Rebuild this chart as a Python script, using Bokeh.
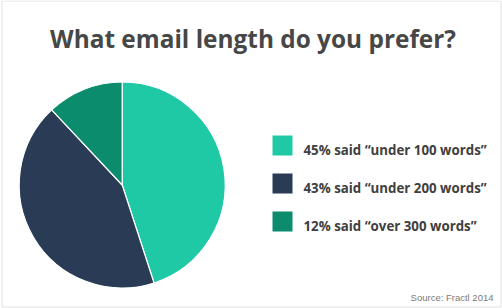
import math
from bokeh.plotting import figure
from bokeh.models import Range1d, ColumnDataSource
from bokeh.core.properties import value
from bokeh.embed import file_html
from bokeh.resources import INLINE

# ---- data ----
title_text = "What email length do you prefer?"
categories = ["under 100 words", "under 200 words", "over 300 words"]
percents = [45, 43, 12]
colors = ["#20c9a5", "#2a3c55", "#0a8c6d"]
source_text = "Source: Fractl 2014"

W, H = 502, 308
p = figure(width=W, height=H, output_backend="svg", toolbar_location=None,
           x_range=Range1d(0, W), y_range=Range1d(0, H), min_border=0)
p.axis.visible = False
p.grid.visible = False
p.outline_line_color = None
p.background_fill_color = "white"
p.border_fill_color = "white"

def sy(y):
    return H - y

# frame border
p.quad(left=[1.5], right=[500.5], bottom=[sy(306.5)], top=[sy(0.5)],
       fill_color=None, line_color="#e2e2e2", line_width=1)

# pie
total = sum(percents)
starts, ends = [], []
a = math.pi / 2
for v in percents:
    starts.append(a)
    a -= v / total * 2 * math.pi
    ends.append(a)
cx, cy, r = 121.7, sy(184.5), 103
src = ColumnDataSource(dict(start=starts, end=ends, color=colors,
                            x=[cx] * 3, y=[cy] * 3))
p.wedge(x="x", y="y", radius=r, start_angle="start", end_angle="end",
        direction="clock", fill_color="color", line_color="white",
        line_width=1.2, source=src)

# legend
labels = [f"{pc}% said \u201c{c}\u201d" for pc, c in zip(percents, categories)]
ly = [sy(145 + 38 * i) for i in range(len(labels))]
p.rect(x=[282] * 3, y=ly, width=20, height=20, fill_color=colors, line_color=None)
tly = [sy(149 + 38 * i) for i in range(len(labels))]
p.text(x=[303] * 3, y=tly, text=labels, text_font=value("Open Sans"),
       text_font_style="bold", text_font_size="13.3px", text_color="#404040",
       text_baseline="alphabetic", text_align="left")

# title
p.text(x=[252.5], y=[sy(37.7)], text=[title_text], text_font=value("Open Sans"),
       text_font_style="bold", text_font_size="24.4px", text_color="#474747",
       text_baseline="alphabetic", text_align="center")

# source
p.text(x=[493], y=[sy(297)], text=[source_text], text_font=value("Liberation Sans"),
       text_font_size="9.5px", text_color="#7a7a7a",
       text_baseline="alphabetic", text_align="right")

open("out.html", "w").write(file_html(p, INLINE))
